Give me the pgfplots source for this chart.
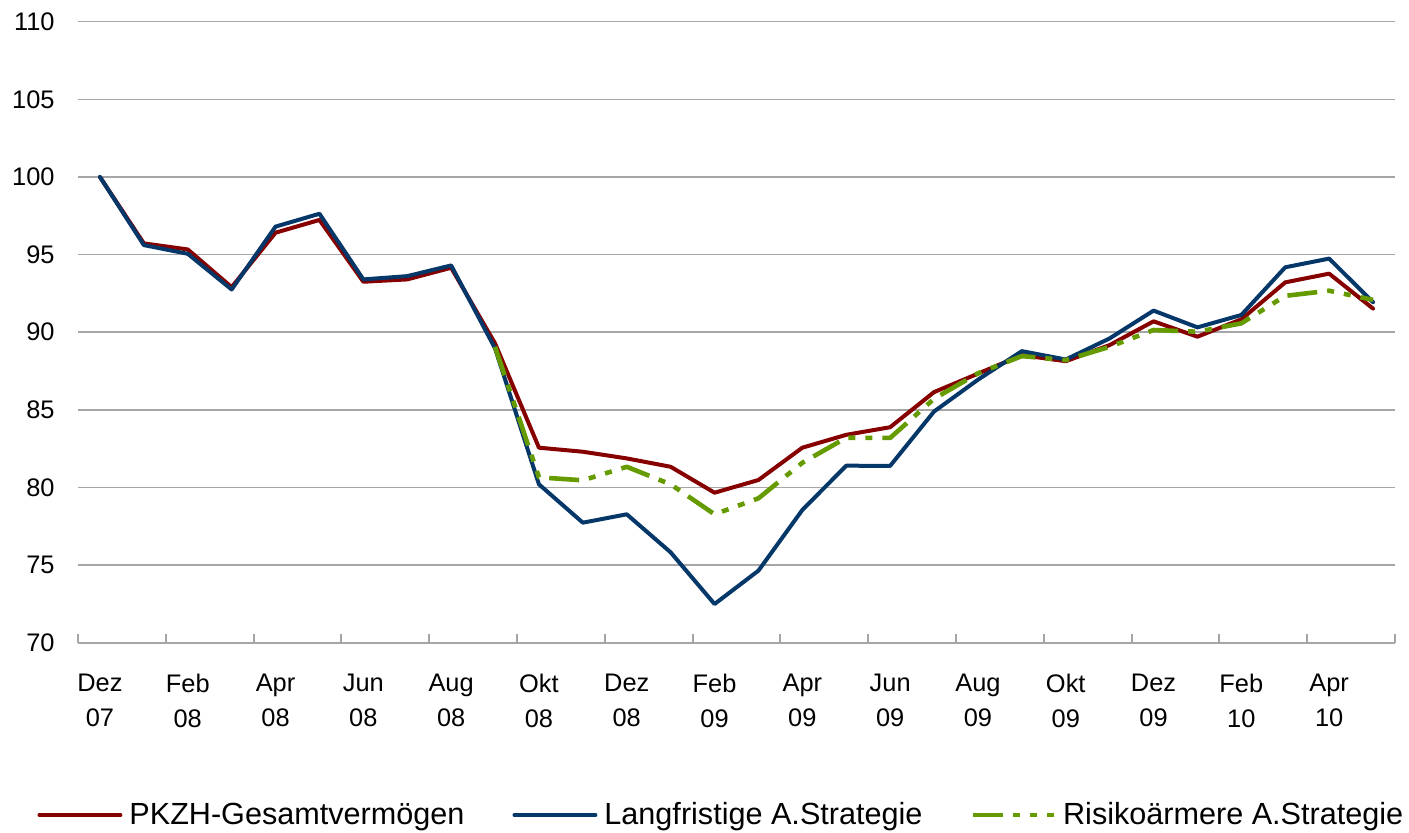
\documentclass[border=0pt]{standalone}
\usepackage{fontspec}
\setmainfont{Liberation Sans}
\usepackage{pgfplots}
\pgfplotsset{compat=1.18}
\definecolor{cRed}{RGB}{134,0,0}
\definecolor{cBlue}{RGB}{5,55,105}
\definecolor{cGreen}{RGB}{102,155,0}
\definecolor{cGrid}{RGB}{166,166,166}

\pgfplotstableread{
x red blue
0 100 100
1 95.72 95.61
2 95.33 95.05
3 92.90 92.75
4 96.41 96.80
5 97.23 97.63
6 93.25 93.40
7 93.40 93.61
8 94.15 94.30
9 89.28 88.96
10 82.56 80.20
11 82.30 77.73
12 81.87 78.27
13 81.33 75.82
14 79.66 72.49
15 80.48 74.64
16 82.56 78.55
17 83.39 81.40
18 83.88 81.39
19 86.14 84.89
20 87.33 86.94
21 88.52 88.78
22 88.13 88.24
23 89.17 89.60
24 90.70 91.39
25 89.71 90.31
26 90.83 91.11
27 93.21 94.18
28 93.77 94.74
29 91.52 91.93
}\mainData

\pgfplotstableread{
x green
9 89.06
10 80.65
11 80.46
12 81.33
13 80.20
14 78.27
15 79.30
16 81.59
17 83.20
18 83.19
19 85.71
20 87.35
21 88.46
22 88.20
23 89.06
24 90.14
25 90.03
26 90.57
27 92.34
28 92.67
29 92.08
}\greenData

\begin{document}
\begin{tikzpicture}
\begin{axis}[
  at={(0pt,0pt)}, anchor=south west,
  scale only axis, width=658.5pt, height=310.5pt,
  xmin=-0.5, xmax=29.5, ymin=70, ymax=110,
  axis x line*=bottom, axis y line*=left,
  x axis line style={draw=cGrid, line width=1pt, -},
  y axis line style={draw=none},
  tick align=inside,
  xtick={0,2,...,28},
  xticklabels={Dez\\07,Feb\\08,Apr\\08,Jun\\08,Aug\\08,Okt\\08,Dez\\08,Feb\\09,Apr\\09,Jun\\09,Aug\\09,Okt\\09,Dez\\09,Feb\\10,Apr\\10},
  minor xtick={-0.5,1.5,...,29.5},
  major x tick style={draw=none},
  minor x tick style={draw=cGrid, line width=1pt},
  minor tick length=4.5pt,
  ytick={70,75,...,110},
  ytick style={draw=none},
  ymajorgrids, xmajorgrids=false,
  major grid style={draw=cGrid, line width=0.75pt},
  /pgf/number format/assume math mode=true,
  ticklabel style={font=\fontsize{12.7}{17.5}\selectfont, text=black},
  xticklabel style={align=center, anchor=north, inner sep=0pt, yshift=-15.6pt},
  yticklabel style={anchor=east, inner sep=0pt, xshift=-11.5pt},
  legend columns=3,
  legend style={at={(axis description cs:-0.0311,-0.2775)}, anchor=west,
    draw=none, fill=none, inner sep=0pt, column sep=0pt,
    font=\fontsize{15.3}{18}\selectfont,
    nodes={inner xsep=3.5pt, inner ysep=1pt},
    /tikz/every even column/.append style={column sep=20.5pt}},
  legend image code/.code={\draw[#1] (0pt,0pt) -- (40.5pt,0pt);},
  clip=false,
]
\addplot[cRed, line width=2pt, line cap=round, line join=round] table[x=x, y=red] {\mainData};
\addlegendentry{PKZH-Gesamtvermögen}
\addplot[cBlue, line width=2pt, line cap=round, line join=round] table[x=x, y=blue] {\mainData};
\addlegendentry{Langfristige A.Strategie}
\addplot[cGreen, line width=2.3pt, line join=round, dash pattern=on 15pt off 5pt on 3.5pt off 5pt on 3.5pt off 5pt] table[x=x, y=green] {\greenData};
\addlegendentry{Risikoärmere A.Strategie}
\end{axis}
\pgfresetboundingbox
\path[use as bounding box] (-39pt,-95.15pt) rectangle (665.5pt,321.35pt);
\end{tikzpicture}
\end{document}
